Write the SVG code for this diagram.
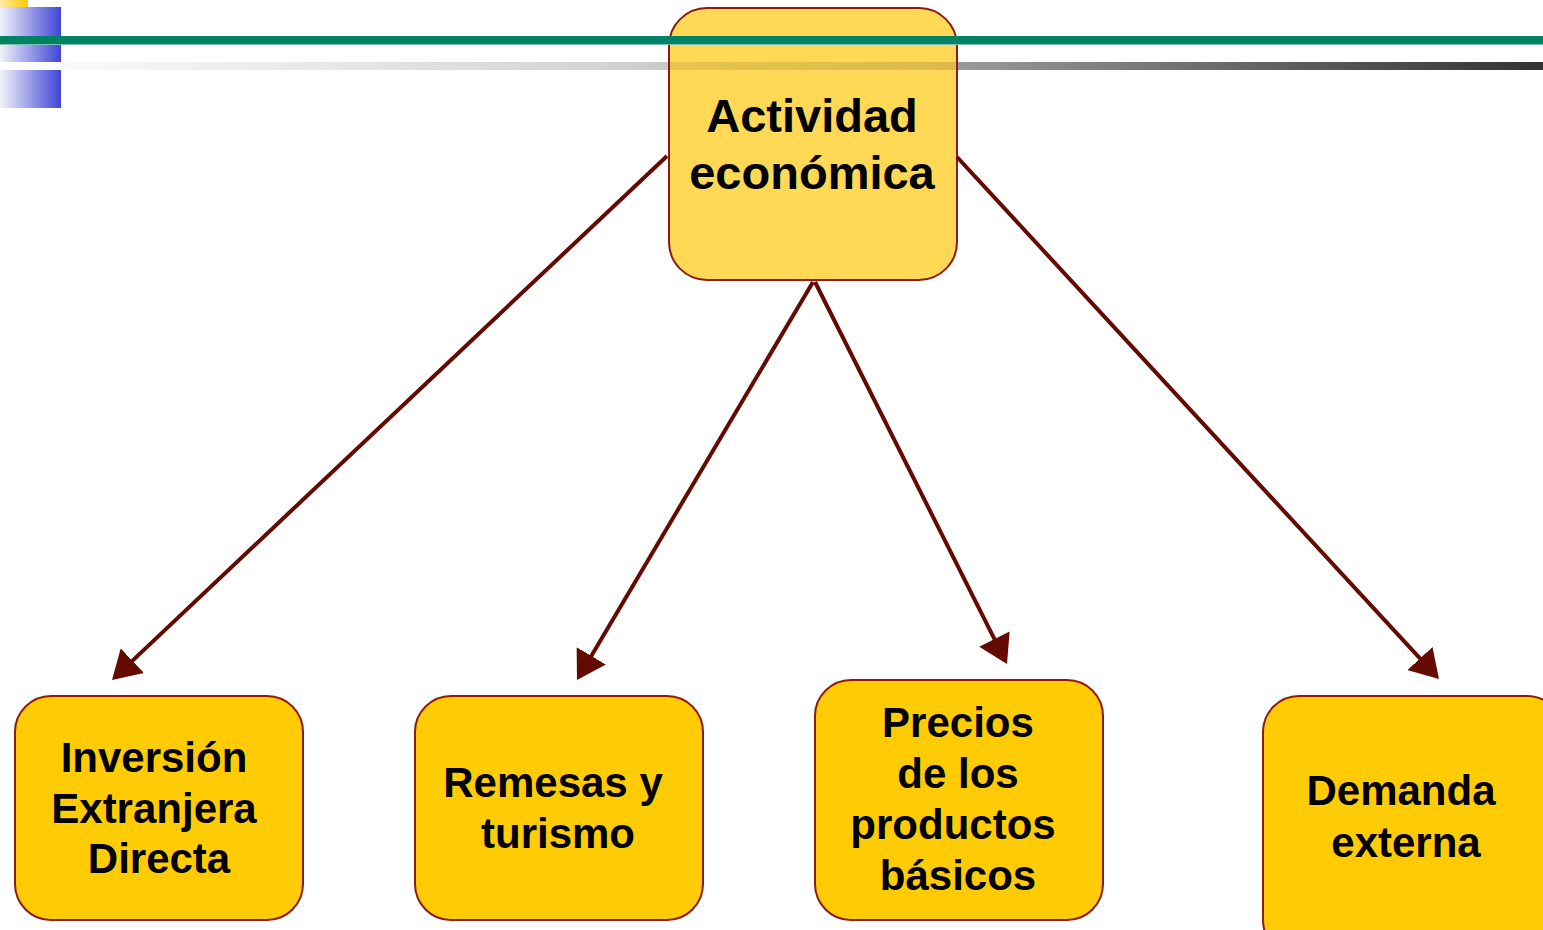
<svg xmlns="http://www.w3.org/2000/svg" width="1543" height="930" viewBox="0 0 1543 930">
<style>
  .node { stroke: #8E1A10; stroke-width: 2; }
  .top { fill: #FFD955; }
  .bot { fill: #FFCB05; }
  .lbl { font-family: "Liberation Sans", Arial, sans-serif; font-weight: bold; fill: #000; text-anchor: middle; }
  .big { font-size: 47px; }
  .sm { font-size: 42px; }
  .conn { stroke: #640A00; stroke-width: 4; fill: none; marker-end: url(#arr); }
</style>
<defs>
  <marker id="arr" viewBox="0 0 28 34" refX="18" refY="17" markerWidth="28" markerHeight="34" markerUnits="userSpaceOnUse" orient="auto">
    <path d="M0,0 L28,17 L0,34 Z" fill="#640A00"/>
  </marker>
  <linearGradient id="blue" x1="0" y1="0" x2="1" y2="0">
    <stop offset="0" stop-color="#F2F2FA"/>
    <stop offset="1" stop-color="#3F46D6"/>
  </linearGradient>
  <linearGradient id="gold" x1="0" y1="0" x2="1" y2="0">
    <stop offset="0" stop-color="#FFE9A8"/>
    <stop offset="1" stop-color="#FFCC00"/>
  </linearGradient>
  <linearGradient id="gray" x1="0" y1="0" x2="1543" y2="0" gradientUnits="userSpaceOnUse">
    <stop offset="0" stop-color="#FFFFFF"/>
    <stop offset="0.4" stop-color="#D2D2D2"/>
    <stop offset="0.62" stop-color="#9A9A9A"/>
    <stop offset="0.85" stop-color="#5A5A5A"/>
    <stop offset="1" stop-color="#333333"/>
  </linearGradient>
  <linearGradient id="shade" x1="669" y1="0" x2="957" y2="0" gradientUnits="userSpaceOnUse">
    <stop offset="0" stop-color="#000" stop-opacity="0.1"/>
    <stop offset="1" stop-color="#000" stop-opacity="0.14"/>
  </linearGradient>
</defs>

<g id="header">
  <rect x="0" y="0" width="28" height="7" fill="url(#gold)"/>
  <rect x="0" y="7" width="61" height="55" fill="url(#blue)"/>
  <rect x="0" y="70" width="61" height="38" fill="url(#blue)"/>
  <rect x="0" y="62" width="1543" height="8" fill="url(#gray)"/>
</g>

<g id="node-actividad">
  <rect class="node top" x="669" y="8" width="288" height="272" rx="38" ry="38"/>
  <rect x="670" y="62" width="286" height="8" fill="url(#shade)"/>
  <text class="lbl big" x="812" y="132">Actividad</text>
  <text class="lbl big" x="812" y="189">económica</text>
</g>

<g id="header-line">
  <rect x="0" y="36" width="1543" height="8" fill="#008264"/>
  <rect x="0" y="44" width="1543" height="1" fill="#7FC0AE"/>
</g>

<g id="node-inversion">
  <rect class="node bot" x="15" y="696" width="288" height="224" rx="36" ry="36"/>
  <text class="lbl sm" x="154" y="772">Inversión</text>
  <text class="lbl sm" x="154" y="823">Extranjera</text>
  <text class="lbl sm" x="159" y="873">Directa</text>
</g>

<g id="node-remesas">
  <rect class="node bot" x="415" y="696" width="288" height="224" rx="36" ry="36"/>
  <text class="lbl sm" x="553" y="797">Remesas y</text>
  <text class="lbl sm" x="558" y="848">turismo</text>
</g>

<g id="node-precios">
  <rect class="node bot" x="815" y="680" width="288" height="240" rx="36" ry="36"/>
  <text class="lbl sm" x="958" y="737">Precios</text>
  <text class="lbl sm" x="958" y="788">de los</text>
  <text class="lbl sm" x="953" y="839">productos</text>
  <text class="lbl sm" x="958" y="890">básicos</text>
</g>

<g id="node-demanda">
  <rect class="node bot" x="1263" y="696" width="300" height="260" rx="36" ry="36"/>
  <text class="lbl sm" x="1401" y="805">Demanda</text>
  <text class="lbl sm" x="1406" y="857">externa</text>
</g>

<g id="connectors">
  <line class="conn" x1="667" y1="156" x2="119.3" y2="673.1"/>
  <line class="conn" x1="813" y1="282" x2="582.1" y2="671.4"/>
  <line class="conn" x1="815" y1="282" x2="1002.5" y2="655.1"/>
  <line class="conn" x1="957" y1="157" x2="1432.2" y2="671.7"/>
</g>
</svg>
